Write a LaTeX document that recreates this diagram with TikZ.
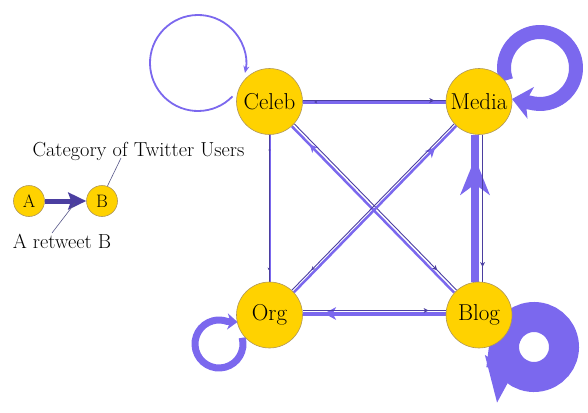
\documentclass[tikz,border=0pt]{standalone}
\usepackage{fontspec}
\setmainfont{Latin Modern Roman}
\usetikzlibrary{arrows.meta,decorations.markings,backgrounds}
\definecolor{nodeY}{RGB}{255,210,0}
\definecolor{nodeB}{RGB}{175,150,90}
\definecolor{edgeL}{RGB}{123,104,238}
\definecolor{edgeD}{RGB}{75,62,160}
\definecolor{leadC}{RGB}{85,85,135}
\tikzset{
  usr/.style={circle, fill=nodeY, draw=nodeB, line width=0.6pt, minimum size=66pt, inner sep=0pt, font=\fontsize{23}{26}\selectfont},
  lusr/.style={usr, minimum size=31pt, font=\fontsize{18}{21}\selectfont},
  ledge/.style={draw=edgeL, line width=#1},
  dedge/.style={draw=edgeD, line width=0.9pt},
  mk/.style n args={4}{postaction={decorate}, decoration={markings, mark=at position #1 with {\fill[#4] (-#3,#2) -- (0,0) -- (-#3,-#2) -- (-0.7*#3,0) -- cycle;}}},
  lbl/.style={font=\fontsize{20.3}{24}\selectfont},
  lead/.style={draw=leadC, line width=0.6pt},
}
\begin{document}
\begin{tikzpicture}[x=1pt, y=-1pt]
\useasboundingbox (0,0) rectangle (588,412);
\node[usr] (celeb) at (269.5,101.5) {Celeb};
\node[usr] (media) at (479,101.5) {Media};
\node[usr] (org) at (269.5,315) {Org};
\node[usr] (blog) at (479,315) {Blog};
\begin{pgfonlayer}{background}
% self loops
\draw[draw=edgeL, line width=1.8pt, -{Stealth[length=7pt,width=6pt]}] ([shift={(44:48)}]198,63) arc[start angle=44, end angle=372, radius=48];
\draw[draw=edgeL, line width=14pt, -{Stealth[length=19pt,width=32pt,inset=5pt]}] ([shift={(160:36)}]540,68) arc[start angle=160, end angle=460, radius=36] -- (512,99);
\draw[draw=edgeL, line width=30pt, -{Stealth[length=45pt,width=34pt,inset=8pt]}] ([shift={(175:30)}]534,347) arc[start angle=175, end angle=-180, radius=30] -- (497,403);
\draw[draw=edgeL, line width=7pt, -{Stealth[length=10pt,width=16pt,inset=3pt]}] ([shift={(-15:24)}]219,344) arc[start angle=-15, end angle=290, radius=24] -- (237.5,322);
% Celeb -> Media
\draw[ledge=3pt] ([yshift=-0.5pt]celeb.east) -- ([yshift=-0.5pt]media.west);
\path[mk={0.92}{1.5}{3}{edgeD}] ([yshift=-0.5pt]media.west) -- ([yshift=-0.5pt]celeb.east);
\draw[dedge, mk={0.92}{2.5}{5}{edgeD}] ([yshift=1pt]celeb.east) -- ([yshift=1pt]media.west);
% Org <-> Blog
\draw[ledge=4pt, mk={0.85}{6.5}{12}{edgeL}] ([yshift=1.5pt]blog.west) -- ([yshift=1.5pt]org.east);
\draw[dedge, mk={0.88}{2.5}{5}{edgeD}] ([yshift=4.5pt]org.east) -- ([yshift=4.5pt]blog.west);
% Blog <-> Media
\draw[ledge=8pt, mk={0.84}{15}{37}{edgeL}] ([xshift=-4pt]blog.north) -- ([xshift=-4pt]media.south);
\draw[dedge, mk={0.9}{2.5}{5}{edgeD}] ([xshift=3.5pt]media.south) -- ([xshift=3.5pt]blog.north);
% Celeb <-> Org
\draw[ledge=2pt] (celeb.south) -- (org.north);
\draw[draw=edgeD, line width=0.4pt, mk={0.92}{1.2}{2.5}{edgeD}] ([xshift=-0.8pt]celeb.south) -- ([xshift=-0.8pt]org.north);
\path[mk={0.91}{1.2}{2.5}{edgeD}] (org.north) -- (celeb.south);
% Celeb <-> Blog
\draw[ledge=2.5pt, mk={0.89}{4}{8}{edgeL}] (blog.138) -- (celeb.-48);
\draw[dedge, mk={0.88}{2.5}{5}{edgeD}] (celeb.-42) -- (blog.132);
% Org <-> Media
\draw[ledge=2.5pt, mk={0.87}{5}{10}{edgeL}] (org.43) -- (media.-133);
\draw[dedge, mk={0.88}{2}{4}{edgeD}] (media.-138) -- (org.48);
\end{pgfonlayer}
% legend
\node[lusr] (a) at (29,201) {A};
\node[lusr] (b) at (102,201) {B};
\draw[draw=edgeD, line width=5pt, -{Stealth[length=18pt,width=17pt,inset=3pt]}] (a) -- (b);
\node[lbl] (cat) at (138.5,151) {Category of Twitter Users};
\node[lbl] (ret) at (62,241) {A retweet B};
\coordinate (catp) at (121,158);
\coordinate (retp) at (52,233);
\coordinate (arrp) at (75,203);
\draw[lead] (b.70) -- (catp);
\draw[lead] (retp) -- (arrp);
\end{tikzpicture}
\end{document}
